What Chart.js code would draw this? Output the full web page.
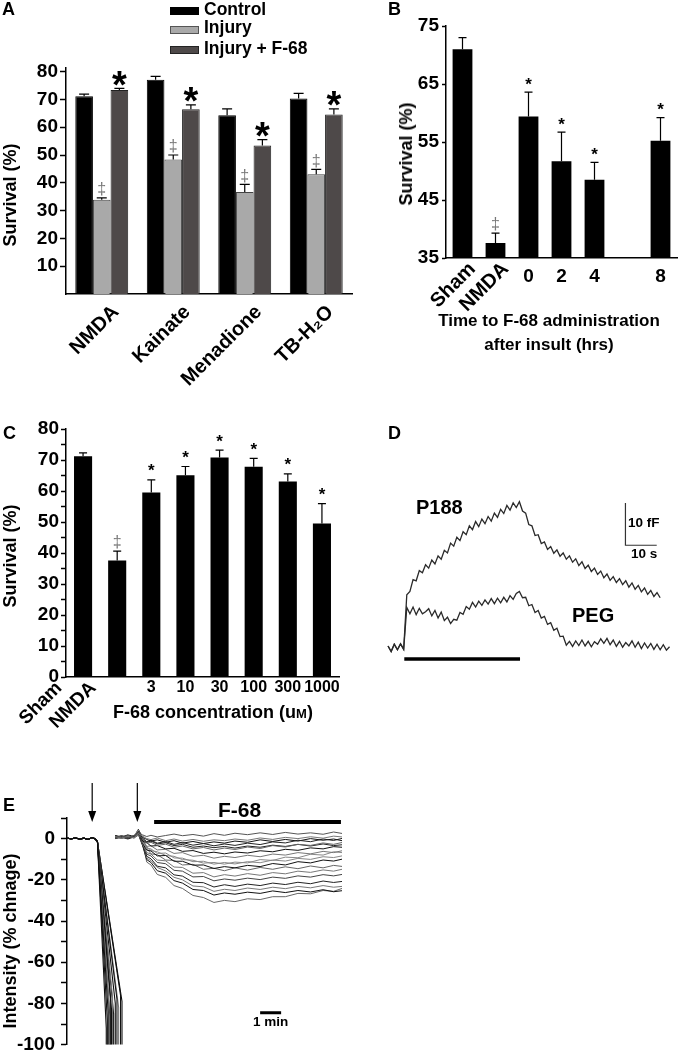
<!DOCTYPE html>
<html>
<head>
<meta charset="utf-8">
<script src="https://cdn.jsdelivr.net/npm/chart.js@4.4.0/dist/chart.umd.min.js"></script>
<style>
  body { margin: 0; background: #fff; }
  #page { position: relative; width: 679px; height: 1050px; overflow: hidden;
          font-family: 'Liberation Sans', Arial, sans-serif; font-weight: bold; color: #000; }
  canvas { position: absolute; }
  .t { position: absolute; white-space: nowrap; line-height: 1; }
  .rot { transform: translate(-50%, -50%) rotate(-90deg); }
  .ctr { transform: translate(-50%, -50%); }
  .sw { position: absolute; left: 170px; width: 29px; box-sizing: border-box; }
</style>
</head>
<body>
<div id="page">
  <canvas id="chartA" width="360" height="390" style="left:0;top:0;width:360px;height:390px"></canvas>
  <canvas id="chartB" width="339" height="345" style="left:340px;top:0;width:339px;height:345px"></canvas>
  <canvas id="chartC" width="345" height="330" style="left:0;top:400px;width:345px;height:330px"></canvas>
  <canvas id="chartD" width="299" height="190" style="left:380px;top:480px;width:299px;height:190px"></canvas>
  <canvas id="chartE" width="360" height="282" style="left:0;top:780px;width:360px;height:282px"></canvas>

  <!-- panel letters -->
  <div class="t" style="left:2px;top:0;font-size:18px">A</div>
  <div class="t" style="left:388px;top:0;font-size:18px">B</div>
  <div class="t" style="left:3px;top:424px;font-size:18px">C</div>
  <div class="t" style="left:388px;top:424px;font-size:18px">D</div>
  <div class="t" style="left:3px;top:796px;font-size:18px">E</div>

  <!-- legend A -->
  <div class="sw" style="top:7px;height:8px;background:#000"></div>
  <div class="sw" style="top:26px;height:8px;background:#a9a9a9;border:1px solid #555"></div>
  <div class="sw" style="top:46px;height:8px;background:#4e4949;border:1px solid #222"></div>
  <div class="t" style="left:204px;top:1px;font-size:17.5px">Control</div>
  <div class="t" style="left:204px;top:19px;font-size:17.5px">Injury</div>
  <div class="t" style="left:204px;top:40px;font-size:17.5px">Injury + F-68</div>

  <!-- axis titles -->
  <div class="t rot" style="left:10px;top:195px;font-size:18px">Survival (%)</div>
  <div class="t rot" style="left:406px;top:154px;font-size:18px">Survival (%)</div>
  <div class="t rot" style="left:10px;top:556px;font-size:18px">Survival (%)</div>
  <div class="t rot" style="left:10px;top:941px;font-size:18px">Intensity (% chnage)</div>
  <div class="t ctr" style="left:549px;top:320px;font-size:17px">Time to F-68 administration</div>
  <div class="t ctr" style="left:549px;top:344px;font-size:17px">after insult (hrs)</div>
  <div class="t ctr" style="left:213px;top:712px;font-size:18px">F-68 concentration (u<span style="font-size:13px">M</span>)</div>

  <!-- panel D annotations -->
  <div class="t" style="left:416px;top:497px;font-size:20px">P188</div>
  <div class="t" style="left:572px;top:605px;font-size:20px">PEG</div>
  <div class="t" style="left:628px;top:516px;font-size:13.5px">10 fF</div>
  <div class="t" style="left:631px;top:547px;font-size:13.5px">10 s</div>

  <!-- panel E annotations -->
  <div class="t" style="left:218px;top:799px;font-size:21px">F-68</div>
  <div class="t" style="left:253px;top:1015px;font-size:13.5px">1 min</div>
</div>

<script>
// ---------- data: panel A ----------
const aCats = ['NMDA', 'Kainate', 'Menadione', 'TB-H\u2082O'];
const aControl = [71.1, 77.1, 64.3, 70.3];
const aControlErr = [0.8, 1.2, 2.3, 1.9];
const aInjury = [33.9, 48.4, 36.7, 43.1];
const aInjuryErr = [0.7, 1.6, 2.7, 1.7];
const aF68 = [73.4, 66.5, 53.4, 64.6];
const aF68Err = [0.6, 1.5, 2.1, 2.0];
const aInjuryMarks = ['\u2021', '\u2021', '\u2021', '\u2021'];
const aF68Marks = ['*', '*', '*', '*'];
const aTicks = [10, 20, 30, 40, 50, 60, 70, 80];

// ---------- data: panel B ----------
const bCats = ['Sham', 'NMDA', '0', '2', '4', '', '8'];
const bSurvival = [71.0, 37.6, 59.4, 51.7, 48.5, null, 55.2];
const bErr = [2.0, 1.7, 4.2, 5.0, 3.0, null, 4.0];
const bMarks = ['', '\u2021', '*', '*', '*', '', '*'];
const bTicks = [35, 45, 55, 65, 75];

// ---------- data: panel C ----------
const cCats = ['Sham', 'NMDA', '3', '10', '30', '100', '300', '1000'];
const cSurvival = [71.2, 37.6, 59.5, 65.1, 70.8, 67.8, 63.1, 49.5];
const cErr = [1.1, 3.0, 4.1, 2.8, 2.4, 2.7, 2.4, 6.4];
const cMarks = ['', '\u2021', '*', '*', '*', '*', '*', '*'];
const cTicks = [0, 5, 10, 15, 20, 25, 30, 35, 40, 45, 50, 55, 60, 65, 70, 75, 80];

// ---------- data: panel D (time s, capacitance fF) ----------
const dTime = [0,1,2,3,4,5,6,7,8,9,10,11,12,13,14,15,16,17,18,19,20,21,22,23,24,25,26,27,28,29,30,
  31,32,33,34,35,36,37,38,39,40,41,42,43,44,45,46,47,48,49,50,51,52,53,54,55,56,57,58,59,60,
  61,62,63,64,65,66,67,68,69,70,71,72,73,74,75,76,77,78,79,80,81,82,83,84,85,86,87,88,89,90];
const dP188 = [0.5,-0.8,0.9,-0.4,1.0,-0.3,
  12.6,13.4,16.2,15.9,18.3,17.8,19.7,18.9,20.8,19.9,21.8,21.0,23.1,22.5,24.8,24.1,26.2,25.4,27.5,26.8,
  28.9,28.0,29.9,28.7,30.5,29.4,31.1,30.0,31.9,30.9,32.8,31.8,33.7,32.6,34.3,33.2,34.6,
  32.4,31.9,29.2,28.9,26.6,26.8,24.7,25.1,23.3,24.0,22.4,23.2,21.7,22.5,21.0,21.8,20.3,21.1,19.5,20.4,
  18.8,19.6,18.1,18.9,17.4,18.2,16.6,17.5,16.0,16.9,15.5,16.4,15.0,15.9,14.4,15.4,13.9,14.8,13.3,14.2,
  12.7,13.6,12.2,13.1,11.9];
const dPEG = [0.5,-0.8,0.9,-0.4,1.0,-0.3,
  9.6,8.1,9.7,7.9,9.4,8.1,8.6,9.3,7.6,8.9,7.1,8.5,6.5,7.3,5.8,6.8,6.6,8.4,8.0,9.8,9.2,10.8,9.7,11.1,
  10.1,11.4,10.4,11.7,10.5,11.8,10.7,12.0,10.9,12.4,11.5,12.9,13.4,
  11.9,12.0,10.0,10.3,8.4,8.9,7.1,7.5,5.6,6.0,4.2,4.7,2.7,2.8,0.7,1.6,0.4,1.7,0.6,1.9,0.5,1.6,0.3,1.5,
  0.9,2.2,1.1,2.3,0.8,1.9,0.4,1.6,0.2,1.3,0.5,1.7,0.2,1.4,-0.1,1.2,0.0,1.1,-0.3,0.9,-0.4,0.8,-0.5,0.3];
const dDrugT = [5.2, 42.2];
const dDrugLevel = -2.6;
const dScaleT = [75.9, 85.9];
const dScaleF = [24.3, 34.3];

// ---------- data: panel E (time min, % change) ----------
const eTicks = [10, 0, -10, -20, -30, -40, -50, -60, -70, -80, -90, -100];
const eArrowsT = [1.2, 3.35];
const eDrugT = [4.15, 13.05];
const eDrugLevel = 8;
const eScaleT = [9.2, 10.2];
const eScaleLevel = -84.5;
const eBaseT = [0, 0.2, 0.4, 0.6, 0.8, 1.0, 1.2, 1.35, 1.45];
const eBaseV = [0.3, -0.2, 0.4, -0.3, 0.2, -0.4, 0.5, -0.2, -1.5];
const eKneeT = [1.87, 1.92, 1.96, 2.0, 2.04, 2.08, 2.12, 2.17, 2.22, 2.3, 2.38, 2.46, 2.55, 2.62];
const eKneeV = [-92, -88, -84, -80, -86, -79, -83, -77, -85, -80, -78, -82, -76, -79];
const eT2 = [2.3, 2.6, 2.9, 3.2, 3.4, 3.6, 3.8, 4.0, 4.3, 4.7, 5.1, 5.5, 6.0, 6.5, 7.0, 7.5, 8.0,
  8.6, 9.2, 9.8, 10.4, 11.0, 11.6, 12.2, 12.7, 13.1];
const eRecovery = [
  [0.5,1.2,0.4,1.5,3.0,1.8,1.0,1.6,0.8,1.5,2.2,1.4,2.0,1.2,2.4,1.6,2.6,1.9,2.8,2.0,3.0,2.2,2.8,2.1,3.2,2.5],
  [0.8,0.2,1.0,0.5,2.5,1.2,0.0,-0.5,0.3,-1.0,-0.2,-1.2,-0.4,-1.3,-0.6,-1.0,-0.2,-0.8,0.3,-0.4,0.6,0.0,0.9,0.2,1.2,0.8],
  [0.2,1.0,0.5,1.3,3.5,0.2,-1.5,-0.8,-2.2,-1.4,-2.8,-1.9,-3.2,-2.4,-3.5,-2.6,-3.3,-2.2,-2.9,-1.6,-2.1,-0.8,-1.5,-0.2,-0.9,0.1],
  [1.0,0.3,1.4,0.6,2.8,-0.2,-2.3,-1.8,-3.3,-2.7,-4.2,-3.6,-5.0,-4.3,-5.5,-4.6,-5.3,-4.1,-4.8,-3.4,-4.1,-2.8,-3.3,-2.1,-2.8,-1.9],
  [0.4,1.1,0.2,0.9,3.2,-1.2,-2.0,-3.6,-3.4,-5.0,-4.7,-6.2,-5.8,-7.2,-6.6,-7.4,-6.5,-7.0,-5.9,-6.4,-5.2,-5.7,-4.5,-5.0,-3.9,-4.2],
  [0.9,0.2,1.3,0.4,1.8,-0.4,-3.8,-3.5,-5.5,-5.2,-7.2,-6.8,-8.6,-8.1,-9.5,-8.6,-9.2,-8.1,-8.8,-7.5,-8.0,-6.8,-7.4,-6.2,-6.8,-5.9],
  [0.3,1.2,0.6,1.6,4.2,-1.8,-4.6,-5.0,-7.2,-7.0,-9.4,-9.5,-11.2,-11.0,-12.4,-11.6,-12.3,-11.2,-11.7,-10.4,-10.9,-9.6,-10.1,-8.8,-9.2,-8.4],
  [1.2,0.5,1.5,0.7,2.6,-2.2,-5.6,-6.0,-8.4,-8.2,-11.0,-11.0,-12.9,-12.8,-14.5,-13.6,-14.2,-13.0,-13.6,-12.1,-12.8,-11.2,-11.8,-10.4,-10.9,-10.0],
  [0.6,1.4,0.3,1.1,3.6,-0.8,-4.6,-7.4,-7.8,-10.4,-10.6,-12.8,-12.5,-14.9,-14.4,-15.6,-14.2,-15.3,-14.0,-14.9,-13.7,-14.6,-13.3,-14.2,-13.0,-13.5],
  [0.2,0.9,1.4,0.5,2.2,-2.6,-6.8,-7.5,-10.4,-10.8,-13.8,-14.0,-16.8,-16.5,-18.6,-17.5,-18.2,-17.0,-17.8,-16.5,-17.1,-15.8,-16.4,-15.2,-15.8,-14.9],
  [1.0,0.2,1.1,0.6,3.0,-1.2,-7.6,-8.4,-11.6,-12.2,-15.4,-15.8,-18.6,-18.4,-20.5,-19.6,-20.2,-19.2,-19.9,-18.7,-19.3,-18.1,-18.7,-17.5,-18.1,-17.4],
  [0.5,1.3,0.4,1.4,2.4,-3.0,-8.6,-9.8,-13.4,-14.2,-17.6,-18.2,-21.2,-21.4,-23.5,-22.4,-23.2,-22.1,-22.8,-21.6,-22.3,-21.2,-21.9,-20.6,-21.3,-20.8],
  [0.8,0.1,1.2,0.3,3.8,-1.8,-9.5,-10.7,-14.0,-15.7,-18.8,-20.0,-23.0,-23.4,-25.6,-24.6,-25.2,-24.0,-24.7,-23.6,-24.3,-23.2,-23.9,-22.8,-23.6,-23.2],
  [1.3,0.6,1.6,0.4,2.0,-3.4,-10.2,-11.6,-15.6,-16.8,-20.4,-21.6,-24.7,-25.2,-27.4,-26.4,-27.0,-26.0,-26.6,-25.4,-26.2,-25.2,-25.9,-24.8,-25.8,-25.3],
  [0.4,1.0,0.2,1.2,3.4,-2.2,-11.4,-12.8,-17.4,-18.8,-22.8,-24.2,-27.6,-28.6,-31.0,-30.0,-30.6,-29.2,-29.6,-28.2,-28.2,-26.6,-26.8,-25.2,-25.6,-24.2],
  [0.7,1.5,0.9,0.2,2.7,-0.6,-4.0,-5.8,-6.4,-8.2,-8.6,-10.2,-10.5,-11.9,-11.6,-12.4,-11.4,-11.8,-10.2,-10.6,-9.0,-9.3,-7.6,-8.0,-6.4,-6.8],
  [1.5,0.8,1.8,1.0,4.5,0.6,-0.4,-1.2,-0.6,-1.8,-1.0,-2.2,-1.4,-2.4,-1.6,-2.2,-1.2,-1.8,-0.6,-1.4,-0.4,-1.2,0.0,-0.8,-0.2,-1.0],
  [0.0,0.6,-0.2,0.8,1.6,-0.5,-1.8,-1.2,-2.6,-2.0,-3.4,-2.8,-4.2,-3.6,-4.4,-3.8,-4.6,-3.6,-4.2,-3.2,-3.8,-2.8,-3.6,-2.6,-3.4,-3.0]
];
const eRecoveryColors = ['#555', '#777', '#222', '#666', '#111', '#777', '#888', '#111', '#666',
  '#777', '#444', '#222', '#777', '#111', '#666', '#888', '#111', '#222'];

// ---------- shared styling ----------
const FONT = "'Liberation Sans', Arial, 'DejaVu Sans', sans-serif";
const tickFont = { family: FONT, size: 19, weight: 'bold' };
Chart.defaults.font.family = FONT;

// error bars + significance marks above bars
const errorBars = {
  id: 'errorBars',
  afterDatasetsDraw(chart, args, opts) {
    const ctx = chart.ctx;
    const ys = chart.scales.y;
    ctx.save();
    opts.errors.forEach((errs, di) => {
      const meta = chart.getDatasetMeta(di);
      const vals = chart.data.datasets[di].data;
      errs.forEach((e, i) => {
        const v = vals[i];
        if (v == null || e == null) return;
        const x = meta.data[i].x;
        const y0 = ys.getPixelForValue(v);
        const y1 = ys.getPixelForValue(v + e);
        ctx.strokeStyle = '#000';
        ctx.lineWidth = 1.2;
        ctx.beginPath();
        ctx.moveTo(x, y0); ctx.lineTo(x, y1);
        ctx.moveTo(x - opts.cap, y1); ctx.lineTo(x + opts.cap, y1);
        ctx.stroke();
        const m = opts.marks[di] && opts.marks[di][i];
        if (m) {
          const st = opts.markStyle[m];
          ctx.font = st.weight + ' ' + st.size + 'px ' + FONT;
          ctx.fillStyle = st.color;
          ctx.textAlign = 'center';
          ctx.textBaseline = 'alphabetic';
          ctx.fillText(m, x, y1 - st.gap + st.ratio * st.size);
        }
      });
    });
    ctx.restore();
  }
};

// category labels, some rotated 45 degrees
const xLabels = {
  id: 'xLabels',
  afterDraw(chart, args, opts) {
    const ctx = chart.ctx, xs = chart.scales.x;
    ctx.save();
    ctx.fillStyle = '#000';
    opts.labels.forEach((lab, i) => {
      if (!lab) return;
      const x = xs.getPixelForValue(i);
      if (opts.rotated.includes(lab)) {
        ctx.font = 'bold ' + opts.rotSize + 'px ' + FONT;
        ctx.save();
        ctx.translate(x + opts.rx, opts.ry);
        ctx.rotate(-Math.PI / 4);
        ctx.textAlign = 'right';
        ctx.textBaseline = 'middle';
        ctx.fillText(lab, 0, 0);
        ctx.restore();
      } else {
        ctx.font = 'bold ' + opts.numSize + 'px ' + FONT;
        ctx.textAlign = 'center';
        ctx.textBaseline = 'middle';
        ctx.fillText(lab, x, opts.ny);
      }
    });
    ctx.restore();
  }
};

// arrows marking treatment times in E
const arrows = {
  id: 'arrows',
  afterDatasetsDraw(chart, args, opts) {
    const ctx = chart.ctx, xs = chart.scales.x, ys = chart.scales.y;
    ctx.save();
    ctx.strokeStyle = '#000';
    ctx.fillStyle = '#000';
    ctx.lineWidth = 1.2;
    opts.times.forEach(t => {
      const x = xs.getPixelForValue(t);
      const tip = ys.getPixelForValue(opts.tip);
      const top = chart.chartArea.top - 35;
      ctx.beginPath(); ctx.moveTo(x, top); ctx.lineTo(x, tip - 8); ctx.stroke();
      ctx.beginPath(); ctx.moveTo(x - 4, tip - 11); ctx.lineTo(x + 4, tip - 11); ctx.lineTo(x, tip); ctx.closePath(); ctx.fill();
    });
    ctx.restore();
  }
};

function yAxis(min, max, ticks, width, tickLen, pad, cb) {
  return {
    min: min, max: max,
    afterBuildTicks: s => { s.ticks = ticks.map(v => ({ value: v })); },
    ticks: { font: tickFont, color: '#000', padding: pad, autoSkip: false, callback: cb || (v => v) },
    grid: { drawOnChartArea: false, tickLength: tickLen, tickColor: '#000', tickWidth: 1.5 },
    border: { color: '#000', width: 1.5 },
    afterFit: s => { s.width = width; }
  };
}
function xCatAxis(height) {
  return {
    ticks: { display: false },
    grid: { display: false },
    border: { color: '#000', width: 1.5 },
    afterFit: s => { s.height = height; }
  };
}
const baseOpts = { responsive: false, animation: false, devicePixelRatio: 1 };
const noLegend = { legend: { display: false }, tooltip: { enabled: false } };
const daggerStyle = { size: 16, weight: 'normal', gap: 8, ratio: 0.27, color: '#777' };

// ---------- chart A ----------
new Chart(document.getElementById('chartA'), {
  type: 'bar',
  data: {
    labels: aCats,
    datasets: [
      { label: 'Control', data: aControl, backgroundColor: '#000', borderColor: '#000', borderWidth: 1 },
      { label: 'Injury', data: aInjury, backgroundColor: '#a9a9a9', borderColor: '#444', borderWidth: 1 },
      { label: 'Injury + F-68', data: aF68, backgroundColor: '#4e4949', borderColor: '#222', borderWidth: 1 }
    ]
  },
  options: Object.assign({}, baseOpts, {
    layout: { padding: { top: 68, right: 8, left: 0, bottom: 0 } },
    datasets: { bar: { categoryPercentage: 0.74, barPercentage: 1 } },
    plugins: Object.assign({}, noLegend, {
      errorBars: {
        errors: [aControlErr, aInjuryErr, aF68Err],
        marks: [null, aInjuryMarks, aF68Marks],
        cap: 5,
        markStyle: {
          '*': { size: 38, weight: 'bold', gap: 12, ratio: 0.56, color: '#000' },
          '\u2021': daggerStyle
        }
      },
      xLabels: { labels: aCats, rotated: aCats, rx: 14, ry: 309, ny: 0, rotSize: 20, numSize: 19 }
    }),
    scales: {
      x: xCatAxis(96),
      y: yAxis(0, 81.3, aTicks, 66, 6, 2)
    }
  }),
  plugins: [errorBars, xLabels]
});

// ---------- chart B ----------
new Chart(document.getElementById('chartB'), {
  type: 'bar',
  data: {
    labels: bCats,
    datasets: [{ data: bSurvival, backgroundColor: '#000', borderColor: '#000', borderWidth: 0 }]
  },
  options: Object.assign({}, baseOpts, {
    layout: { padding: { top: 26, right: 2, left: 0, bottom: 0 } },
    datasets: { bar: { categoryPercentage: 1, barPercentage: 0.6 } },
    plugins: Object.assign({}, noLegend, {
      errorBars: {
        errors: [bErr], marks: [bMarks], cap: 4,
        markStyle: {
          '*': { size: 17, weight: 'bold', gap: 12, ratio: 0.56, color: '#000' },
          '\u2021': daggerStyle
        }
      },
      xLabels: { labels: bCats, rotated: ['Sham', 'NMDA'], rx: 10, ry: 266, ny: 277, rotSize: 20, numSize: 19 }
    }),
    scales: {
      x: xCatAxis(87),
      y: yAxis(35, 75, bTicks, 106, 4, 3)
    }
  }),
  plugins: [errorBars, xLabels]
});

// ---------- chart C ----------
new Chart(document.getElementById('chartC'), {
  type: 'bar',
  data: {
    labels: cCats,
    datasets: [{ data: cSurvival, backgroundColor: '#000', borderColor: '#000', borderWidth: 0 }]
  },
  options: Object.assign({}, baseOpts, {
    layout: { padding: { top: 29, right: 6, left: 0, bottom: 0 } },
    datasets: { bar: { categoryPercentage: 1, barPercentage: 0.53 } },
    plugins: Object.assign({}, noLegend, {
      errorBars: {
        errors: [cErr], marks: [cMarks], cap: 4,
        markStyle: {
          '*': { size: 17, weight: 'bold', gap: 13, ratio: 0.56, color: '#000' },
          '\u2021': daggerStyle
        }
      },
      xLabels: { labels: cCats, rotated: ['Sham', 'NMDA'], rx: -24, ry: 285, ny: 288, rotSize: 19, numSize: 16 }
    }),
    scales: {
      x: xCatAxis(53),
      y: yAxis(0, 80, cTicks, 66, 5, 2, v => (v % 10 === 0 ? v : ''))
    }
  }),
  plugins: [errorBars, xLabels]
});

// ---------- chart D ----------
const traceStyle = { borderColor: '#2a2a2a', borderWidth: 1.3, pointRadius: 0 };
new Chart(document.getElementById('chartD'), {
  type: 'line',
  data: {
    datasets: [
      Object.assign({ data: dP188.map((v, i) => ({ x: dTime[i], y: v })) }, traceStyle),
      Object.assign({ data: dPEG.map((v, i) => ({ x: dTime[i], y: v })) }, traceStyle),
      { data: dDrugT.map(t => ({ x: t, y: dDrugLevel })), borderColor: '#000', borderWidth: 3.5, pointRadius: 0 },
      { data: [{ x: dScaleT[0], y: dScaleF[1] }, { x: dScaleT[0], y: dScaleF[0] }, { x: dScaleT[1], y: dScaleF[0] }],
        borderColor: '#333', borderWidth: 1.2, pointRadius: 0 }
    ]
  },
  options: Object.assign({}, baseOpts, {
    layout: { padding: { left: 4.9, right: 3.2, top: 7.3, bottom: 5 } },
    plugins: noLegend,
    scales: {
      x: { type: 'linear', display: false, min: -1, max: 92 },
      y: { display: false, min: -4, max: 38 }
    }
  })
});

// ---------- chart E ----------
const eSets = [];
eKneeT.forEach((kt, j) => {
  const pts = eBaseT.map((t, k) => ({ x: t, y: eBaseV[k] }));
  pts.push({ x: kt, y: eKneeV[j] }, { x: kt, y: -110 });
  eSets.push({ data: pts, borderColor: j % 4 === 3 ? '#777' : '#111', borderWidth: 1.1, pointRadius: 0 });
});
eRecovery.forEach((vals, j) => {
  eSets.push({ data: vals.map((v, k) => ({ x: eT2[k], y: v })), borderColor: eRecoveryColors[j], borderWidth: 1, pointRadius: 0 });
});
eSets.push({ data: eDrugT.map(t => ({ x: t, y: eDrugLevel })), borderColor: '#000', borderWidth: 4, pointRadius: 0 });
eSets.push({ data: eScaleT.map(t => ({ x: t, y: eScaleLevel })), borderColor: '#000', borderWidth: 3, pointRadius: 0 });

new Chart(document.getElementById('chartE'), {
  type: 'line',
  data: { datasets: eSets },
  options: Object.assign({}, baseOpts, {
    layout: { padding: { left: 0, right: 18, top: 38, bottom: 10 } },
    plugins: Object.assign({}, noLegend, { arrows: { times: eArrowsT, tip: eDrugLevel } }),
    scales: {
      x: { type: 'linear', display: false, min: 0, max: 13.1 },
      y: yAxis(-100, 10, eTicks, 67, 6, 6, v => (v % 20 === 0 ? v : ''))
    }
  }),
  plugins: [arrows]
});
</script>
</body>
</html>
